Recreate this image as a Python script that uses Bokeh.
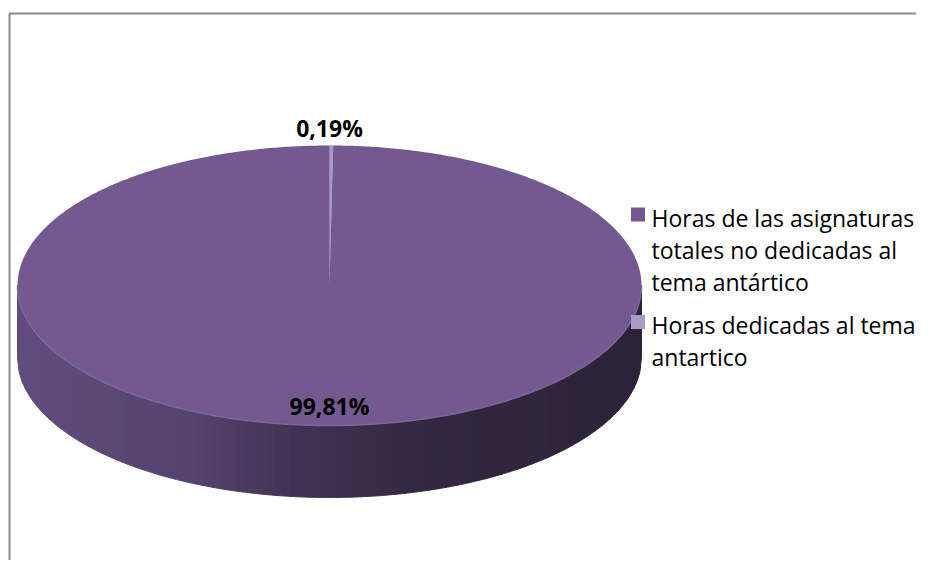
import numpy as np
from bokeh.plotting import figure
from bokeh.models import Range1d
from bokeh.core.properties import value
from bokeh.embed import file_html
from bokeh.resources import INLINE

# ---- data ----
categories = ["Horas de las asignaturas totales no dedicadas al tema antártico",
              "Horas dedicadas al tema antartico"]
values = [99.81, 0.19]
value_labels = ["99,81%", "0,19%"]
legend_lines = [["Horas de las asignaturas", "totales no dedicadas al", "tema antártico"],
                ["Horas dedicadas al tema", "antartico"]]
colors = ["#735990", "#a99bc3"]

W, H = 916, 560
p = figure(width=W, height=H, output_backend="svg", toolbar_location=None,
           x_range=Range1d(0, W), y_range=Range1d(H, 0), min_border=0)
p.axis.visible = False
p.grid.visible = False
p.outline_line_color = None
p.background_fill_color = "white"
p.border_fill_color = "white"

# frame (left/top visible)
p.line([9, 9, W], [H, 13, 13], line_color="#8a8a8a", line_width=2)

cx, cy, rx, ry, depth = 329, 285, 312, 140, 72

# side with horizontal gradient
stops_x = np.array([cx - rx, cx - rx + 180, cx - 30, cx + 100, cx + rx])
stops_c = np.array([[96, 77, 126], [84, 67, 108], [64, 50, 84], [51, 40, 65], [45, 35, 56]])
n = 80
edges = np.linspace(cx - rx, cx + rx, n + 1)
xs_list, ys_list, cols = [], [], []
for i in range(n):
    xa, xb = edges[i], edges[i + 1]
    xx = np.linspace(xa, xb, 6)
    yy = cy + ry * np.sqrt(np.clip(1 - ((xx - cx) / rx) ** 2, 0, 1))
    xs_list.append(list(xx) + list(xx[::-1]))
    ys_list.append(list(yy) + list((yy + depth)[::-1]))
    xm = 0.5 * (xa + xb)
    c = [int(np.interp(xm, stops_x, stops_c[:, k])) for k in range(3)]
    cols.append("#%02x%02x%02x" % tuple(c))
p.patches(xs_list, ys_list, fill_color=cols, line_color=cols, line_width=1)

# top face wedges (clockwise from 12 o'clock), thin slice first
total = sum(values)
order = [1, 0]
start = 0.0
for idx in order:
    frac = values[idx] / total
    t = np.linspace(start, start + frac * 2 * np.pi, max(4, int(frac * 720)))
    wx = [cx] + list(cx + rx * np.sin(t))
    wy = [cy] + list(cy - ry * np.cos(t))
    p.patch(wx, wy, fill_color=colors[idx], line_color=colors[idx], line_width=0.5 if idx == 1 else 0)
    start += frac * 2 * np.pi

# light rim at front edge
tt = np.linspace(np.pi / 2, 3 * np.pi / 2, 200)
p.line(cx + rx * np.sin(tt), cy - ry * np.cos(tt), line_color="#7d679a", line_width=1.5)

# data labels
p.text([cx, cx], [405, 127], text=value_labels, text_font=value("Open Sans"),
       text_font_style="bold", text_font_size="23px", text_color="black",
       text_align="center", text_baseline="alphabetic")

# legend
sq_y = [214, 321.5]
p.rect([637.5] * 2, sq_y, width=14, height=14, fill_color=colors, line_color=None)
base0 = [217, 324]
lx, ly, lt = [], [], []
for i, lines in enumerate(legend_lines):
    for j, s in enumerate(lines):
        lx.append(651); ly.append(base0[i] + 32 * j); lt.append(s)
p.text(lx, ly, text=lt, text_font=value("Open Sans"), text_font_size="23px",
       text_color="black", text_align="left", text_baseline="alphabetic")

open("out.html", "w").write(file_html(p, INLINE))
